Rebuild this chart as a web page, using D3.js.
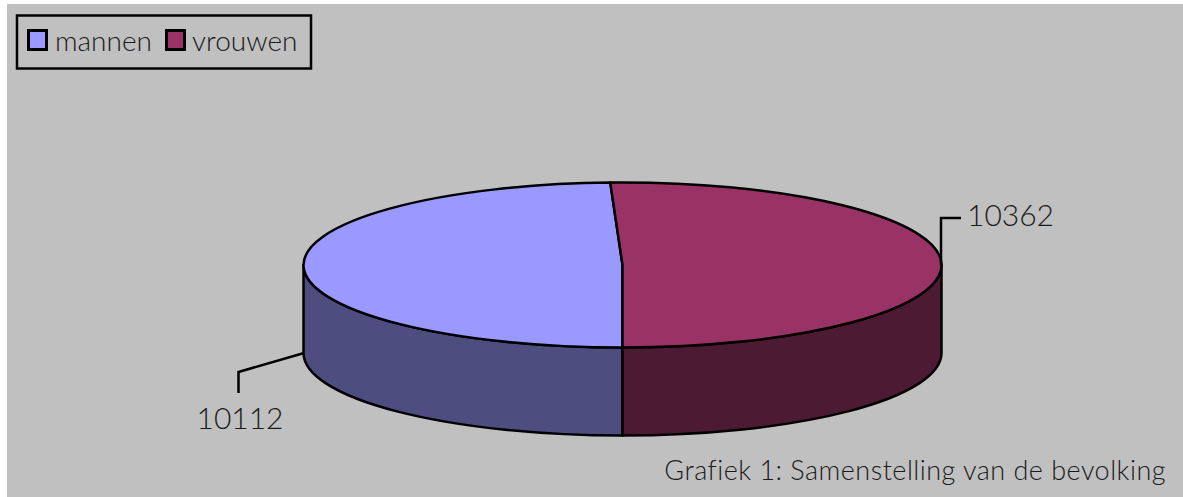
<!DOCTYPE html>
<html>
<head>
<meta charset="utf-8">
<script src="https://cdn.jsdelivr.net/npm/d3@7/dist/d3.min.js"></script>
<style>
  html, body { margin: 0; padding: 0; background: #fff; }
  svg { display: block; }
  text { font-family: "Lato", "Open Sans", sans-serif; font-weight: 300; fill: #1a1a1a; }
</style>
</head>
<body>
<script>
const categories = ['mannen', 'vrouwen'];
const values = [10112, 10362];
const topColors = ['#9999ff', '#993366'];
const sideColors = ['#4d4d80', '#4d1a33'];
const legendSpots = [27, 165];
const caption = 'Grafiek 1: Samenstelling van de bevolking';

const w = 1183, h = 497;
const cx = 622.5, cy = 265, rx = 319, ry = 82.5, depth = 88;

const svg = d3.select('body').append('svg').attr('width', w).attr('height', h);
svg.append('rect').attr('x', 7).attr('y', 4).attr('width', w - 7).attr('height', h - 4).attr('fill', '#c0c0c0');

// first slice starts at the bottom of the ellipse and goes clockwise
const slices = d3.pie().sort(null).startAngle(Math.PI).endAngle(3 * Math.PI)(values);
const px = a => cx + rx * Math.sin(a);
const py = a => cy - ry * Math.cos(a);

function topPath(a0, a1) {
  const large = a1 - a0 > Math.PI ? 1 : 0;
  return `M${cx},${cy}L${px(a0)},${py(a0)}A${rx},${ry} 0 ${large} 1 ${px(a1)},${py(a1)}Z`;
}
function sidePath(a0, a1) {
  return `M${px(a0)},${py(a0)}A${rx},${ry} 0 0 1 ${px(a1)},${py(a1)}L${px(a1)},${py(a1) + depth}A${rx},${ry} 0 0 0 ${px(a0)},${py(a0) + depth}Z`;
}

const g = svg.append('g').attr('stroke', '#000').attr('stroke-width', 2.5).attr('stroke-linejoin', 'round');
// side walls only exist on the front half of the ellipse
g.append('path').attr('d', sidePath(Math.PI, 1.5 * Math.PI)).attr('fill', sideColors[0]);
g.append('path').attr('d', sidePath(Math.PI / 2, Math.PI)).attr('fill', sideColors[1]);
g.selectAll('path.top').data(slices).enter().append('path')
  .attr('class', 'top')
  .attr('d', d => topPath(d.startAngle, d.endAngle))
  .attr('fill', (d, i) => topColors[i]);

// leader lines
const leaders = [
  [[304, 353], [238.5, 372], [238.5, 393]],
  [[941, 265], [941, 218], [961, 218]]
];
const line = d3.line();
svg.selectAll('path.leader').data(leaders).enter().append('path')
  .attr('class', 'leader').attr('d', line).attr('fill', 'none').attr('stroke', '#000').attr('stroke-width', 2.5);

svg.append('text').attr('x', 240).attr('y', 429).attr('text-anchor', 'middle').attr('font-size', 30).text(values[0]);
svg.append('text').attr('x', 1010.5).attr('y', 226).attr('text-anchor', 'middle').attr('font-size', 30).text(values[1]);
svg.append('text').attr('x', 1166).attr('y', 480).attr('text-anchor', 'end').attr('font-size', 27).attr('letter-spacing', 0.48).text(caption);

// legend
const legend = svg.append('g');
legend.append('rect').attr('x', 17).attr('y', 15.5).attr('width', 294).attr('height', 53).attr('fill', '#c0c0c0').attr('stroke', '#000').attr('stroke-width', 2.5);
categories.forEach((c, i) => {
  legend.append('rect').attr('x', legendSpots[i] + 1.5).attr('y', 30.5).attr('width', 18).attr('height', 19)
    .attr('fill', topColors[i]).attr('stroke', '#000').attr('stroke-width', 3);
  legend.append('text').attr('x', legendSpots[i] + (i ? 27 : 28)).attr('y', 51).attr('font-size', 28).text(c);
});
</script>
</body>
</html>
